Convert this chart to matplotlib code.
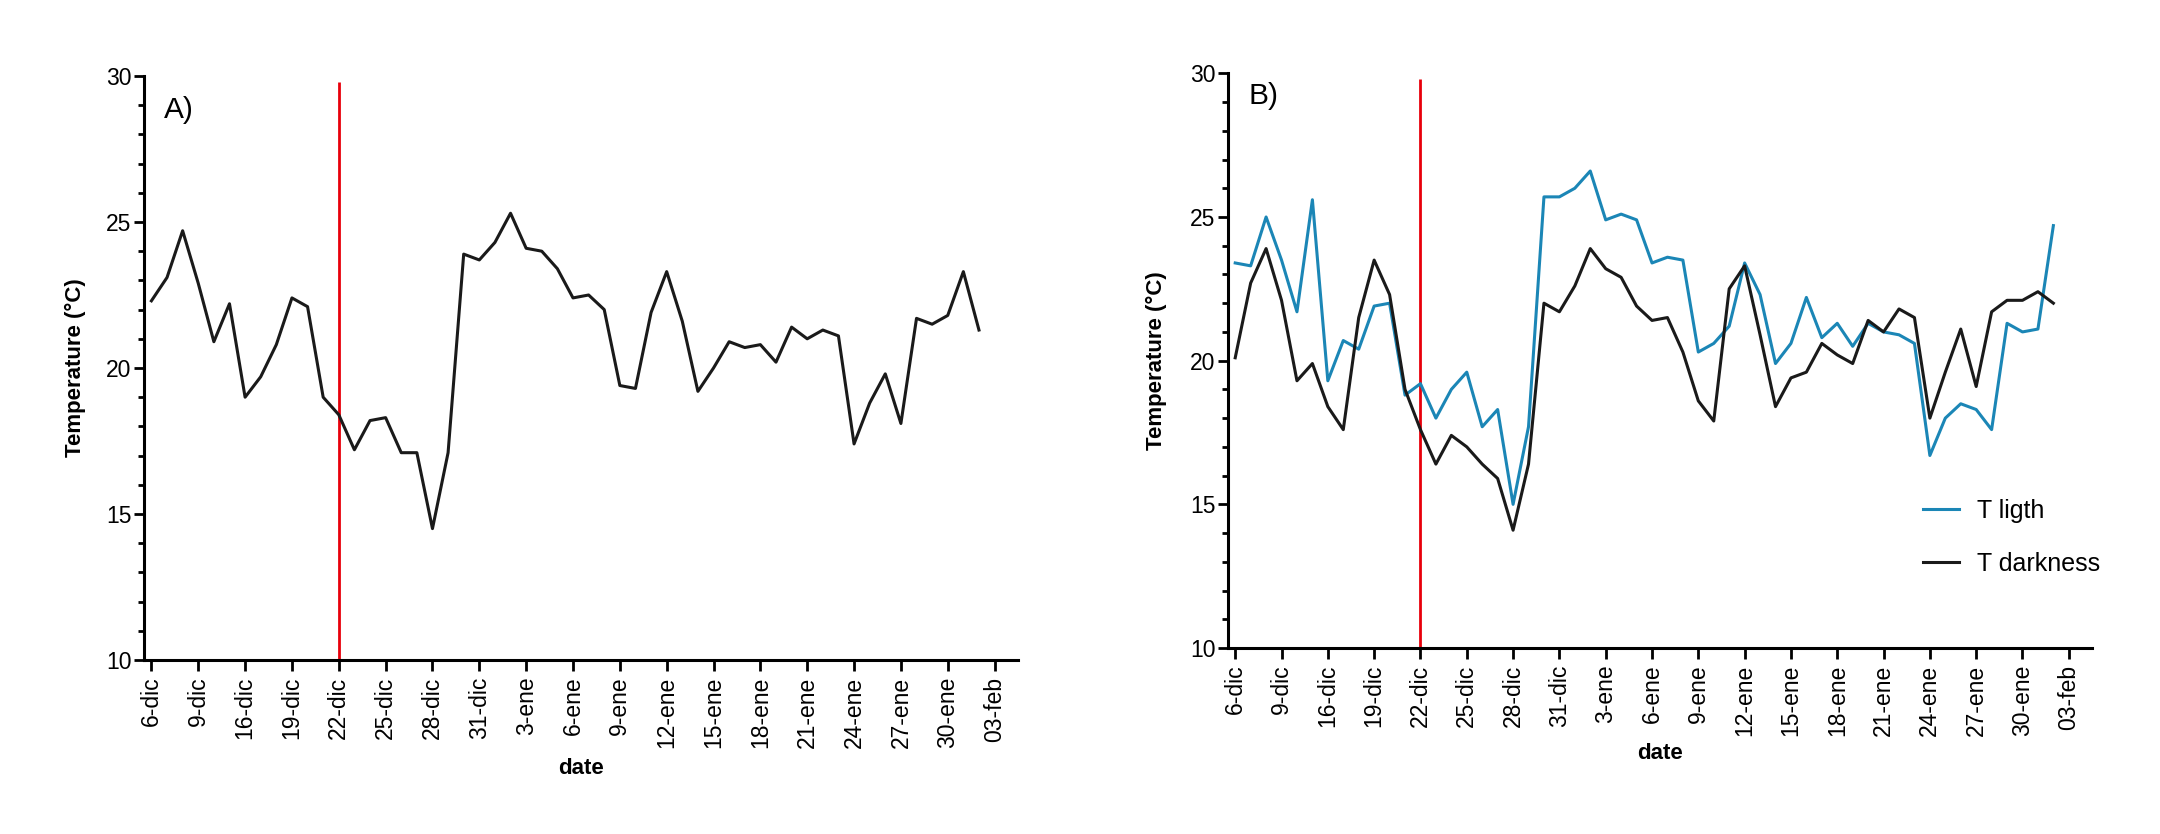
import matplotlib
matplotlib.use("Agg")
import matplotlib.pyplot as plt
import numpy as np

plt.rcParams['font.family'] = ['Liberation Sans', 'DejaVu Sans']

# tick labels, one every 3 days (categorical axis)
tick_labels = ["6-dic", "9-dic", "16-dic", "19-dic", "22-dic", "25-dic", "28-dic",
               "31-dic", "3-ene", "6-ene", "9-ene", "12-ene", "15-ene", "18-ene",
               "21-ene", "24-ene", "27-ene", "30-ene", "03-feb"]
treatment_label = "22-dic"

# panel A: mean temperature
temp_a = [22.3, 23.1, 24.7, 22.9, 20.9, 22.2, 19.0, 19.7, 20.8, 22.4,
          22.1, 19.0, 18.4, 17.2, 18.2, 18.3, 17.1, 17.1, 14.5, 17.1,
          23.9, 23.7, 24.3, 25.3, 24.1, 24.0, 23.4, 22.4, 22.5, 22.0,
          19.4, 19.3, 21.9, 23.3, 21.6, 19.2, 20.0, 20.9, 20.7, 20.8,
          20.2, 21.4, 21.0, 21.3, 21.1, 17.4, 18.8, 19.8, 18.1, 21.7,
          21.5, 21.8, 23.3, 21.3]

# panel B: light / darkness
t_light = [23.4, 23.3, 25.0, 23.5, 21.7, 25.6, 19.3, 20.7, 20.4, 21.9,
           22.0, 18.8, 19.2, 18.0, 19.0, 19.6, 17.7, 18.3, 15.0, 17.7,
           25.7, 25.7, 26.0, 26.6, 24.9, 25.1, 24.9, 23.4, 23.6, 23.5,
           20.3, 20.6, 21.2, 23.4, 22.3, 19.9, 20.6, 22.2, 20.8, 21.3,
           20.5, 21.3, 21.0, 20.9, 20.6, 16.7, 18.0, 18.5, 18.3, 17.6,
           21.3, 21.0, 21.1, 24.7]
t_dark = [20.1, 22.7, 23.9, 22.1, 19.3, 19.9, 18.4, 17.6, 21.5, 23.5,
          22.3, 19.0, 17.6, 16.4, 17.4, 17.0, 16.4, 15.9, 14.1, 16.4,
          22.0, 21.7, 22.6, 23.9, 23.2, 22.9, 21.9, 21.4, 21.5, 20.3,
          18.6, 17.9, 22.5, 23.3, 20.9, 18.4, 19.4, 19.6, 20.6, 20.2,
          19.9, 21.4, 21.0, 21.8, 21.5, 18.0, 19.6, 21.1, 19.1, 21.7,
          22.1, 22.1, 22.4, 22.0]

blue = '#1b86b6'
x = np.arange(len(temp_a))
ticks = np.arange(len(tick_labels)) * 3
t_idx = tick_labels.index(treatment_label) * 3

fig = plt.figure(figsize=(21.6, 8.34), dpi=100)
ax1 = fig.add_axes([0.0667, 0.2086, 0.4046, 0.7003])
ax2 = fig.add_axes([0.5685, 0.2230, 0.4000, 0.6891])


def style(ax):
    ax.set_xlim(-0.47, 55.5)
    ax.set_ylim(10, 30)
    ax.spines['top'].set_visible(False)
    ax.spines['right'].set_visible(False)
    for s in ['left', 'bottom']:
        ax.spines[s].set_linewidth(2.2)
    ax.set_xticks(ticks)
    ax.set_xticklabels(tick_labels, rotation=90, fontsize=16.5)
    ax.set_yticks([10, 15, 20, 25, 30])
    ax.set_yticks(np.arange(10, 30, 1), minor=True)
    ax.tick_params(axis='x', length=8, width=2, pad=4)
    ax.tick_params(axis='y', which='major', length=7, width=2, pad=2, labelsize=16.5)
    ax.tick_params(axis='y', which='minor', length=4, width=2)
    ax.tick_params(axis='x', which='minor', bottom=False)
    ax.set_xlabel('date', fontsize=16, fontweight='bold')
    ax.set_ylabel('Temperature (°C)', fontsize=16, fontweight='bold')
    ax.vlines(t_idx, 10, 29.8, color='#e8000b', lw=2, zorder=1)


style(ax1)
ax1.plot(x, temp_a, color='#1a1a1a', lw=2.2, zorder=3)
ax1.text(0.8, 28.85, 'A)', fontsize=21.5, va='center', ha='left')
ax1.xaxis.set_label_coords(0.5, -0.168)
ax1.yaxis.set_label_coords(-0.066, 0.5)

style(ax2)
ax2.plot(x, t_light, color=blue, lw=2.2, label='T ligth', zorder=3)
ax2.plot(x, t_dark, color='#1a1a1a', lw=2.2, label='T darkness', zorder=3)
ax2.text(0.84, 29.2, 'B)', fontsize=21.5, va='center', ha='left')
ax2.xaxis.set_label_coords(0.5, -0.165)
ax2.yaxis.set_label_coords(-0.07, 0.5)
ax2.legend(loc='upper left', bbox_to_anchor=(0.8903, 0.4017),
           bbox_transform=fig.transFigure, frameon=False, fontsize=18,
           handlelength=1.45, handletextpad=0.7, labelspacing=1.15,
           borderpad=0, borderaxespad=0)

fig.savefig('out.png', dpi=100)
